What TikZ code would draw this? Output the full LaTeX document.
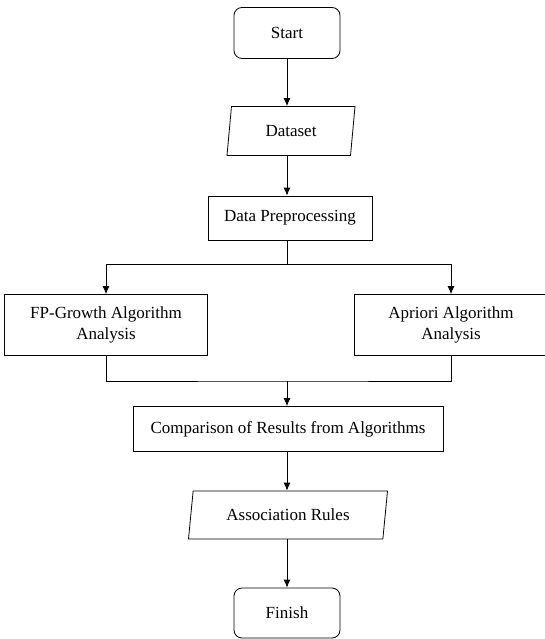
\documentclass[tikz,border=0pt]{standalone}
\usepackage{fontspec}
\setmainfont{Liberation Serif}
\usetikzlibrary{shapes.geometric,arrows.meta}
\begin{document}
\begin{tikzpicture}[x=1pt, y=-1pt, line width=0.8pt,
  >={Latex[length=8pt,width=7pt]},
  font=\fontsize{17}{21}\selectfont,
  term/.style={draw, rounded corners=8pt, minimum width=106pt, minimum height=51pt},
  procbox/.style={draw, align=center},
  iobox/.style={draw, trapezium, trapezium left angle=76, trapezium right angle=104,
    trapezium stretches body, inner xsep=2pt}]
\useasboundingbox (0,0) rectangle (545,639);
% Inicio
\node[term] (start) at (287,33) {Start};
% Datos de entrada
\node[iobox, minimum width=128pt, minimum height=49pt] (dataset) at (291,131) {Dataset};
% Preprocesamiento
\node[procbox, minimum width=164pt, minimum height=44pt] (prep) at (290,218) {Data Preprocessing};
% Dos algoritmos
\node[procbox, minimum width=203pt, minimum height=61pt] (fp) at (106,325) {FP-Growth Algorithm\\Analysis};
\node[procbox, minimum width=193pt, minimum height=61pt] (ap) at (451,325) {Apriori Algorithm\\Analysis};
% Comparacion
\node[procbox, minimum width=310pt, minimum height=45pt] (comp) at (288,429) {Comparison of Results from Algorithms};
% Reglas
\node[iobox, minimum width=199pt, minimum height=48pt] (rules) at (288,515) {Association Rules};
% Fin
\node[term, minimum height=50pt] (finish) at (287,613) {Finish};
% Puntos de union
\coordinate (split) at (287,264);
\coordinate (merge) at (287,381);
% Flechas
\draw[->] (start.south) -- (start.south |- dataset.north);
\draw[->] (start.south |- dataset.south) -- (start.south |- prep.north);
\draw (start.south |- prep.south) -- (split);
\draw[->] (split) -| (fp.north);
\draw[->] (split) -| (ap.north);
\draw (fp.south) |- (merge) -| (ap.south);
\draw[->] (merge) -- (merge |- comp.north);
\draw[->] (merge |- comp.south) -- (merge |- rules.north);
\draw[->] (merge |- rules.south) -- (merge |- finish.north);
\end{tikzpicture}
\end{document}
